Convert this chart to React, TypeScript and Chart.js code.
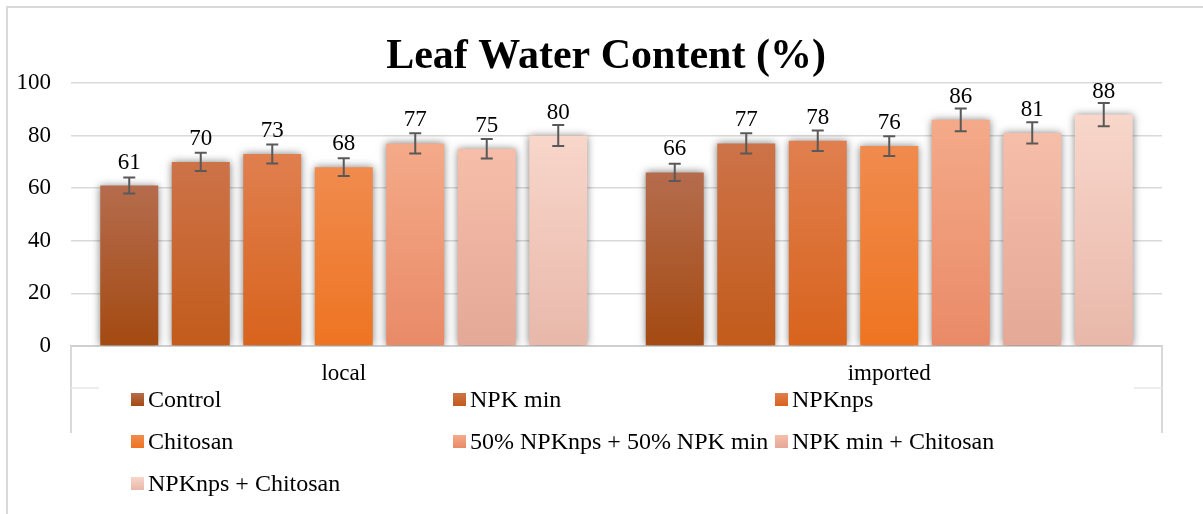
import React, { useEffect, useRef } from "react";
import { Chart, registerables } from "chart.js";

Chart.register(...registerables);

const categories = ["local", "imported"];
const seriesNames = [
  "Control",
  "NPK min",
  "NPKnps",
  "Chitosan",
  "50% NPKnps + 50% NPK min",
  "NPK min + Chitosan",
  "NPKnps + Chitosan",
];
const controlValues = [61, 66];
const npkMinValues = [70, 77];
const npkNpsValues = [73, 78];
const chitosanValues = [68, 76];
const halfHalfValues = [77, 86];
const npkMinChitosanValues = [75, 81];
const npkNpsChitosanValues = [80, 88];

const controlErr = [3.05, 3.3];
const npkMinErr = [3.5, 3.85];
const npkNpsErr = [3.65, 3.9];
const chitosanErr = [3.4, 3.8];
const halfHalfErr = [3.85, 4.3];
const npkMinChitosanErr = [3.75, 4.05];
const npkNpsChitosanErr = [4.0, 4.4];

const yTicks = [0, 20, 40, 60, 80, 100];

const seriesValues = [
  controlValues,
  npkMinValues,
  npkNpsValues,
  chitosanValues,
  halfHalfValues,
  npkMinChitosanValues,
  npkNpsChitosanValues,
];
const seriesErrors = [
  controlErr,
  npkMinErr,
  npkNpsErr,
  chitosanErr,
  halfHalfErr,
  npkMinChitosanErr,
  npkNpsChitosanErr,
];
// [top, bottom] gradient colours
const seriesColors: [string, string][] = [
  ["#b56c4d", "#a44a12"],
  ["#cd7349", "#c25b1b"],
  ["#e07f4f", "#d8631c"],
  ["#f08b4e", "#ee7421"],
  ["#f4aa89", "#e98a67"],
  ["#f6bea9", "#e4a897"],
  ["#f8d6ca", "#e8b8aa"],
];

const SERIF = "'Times New Roman', 'Liberation Serif', serif";

export default function App() {
  const canvasRef = useRef<HTMLCanvasElement | null>(null);

  useEffect(() => {
    const canvas = canvasRef.current;
    if (!canvas) return;

    const gradFor = (ctx: CanvasRenderingContext2D, top: number, bottom: number, i: number) => {
      const g = ctx.createLinearGradient(0, top, 0, bottom);
      g.addColorStop(0, seriesColors[i][0]);
      g.addColorStop(1, seriesColors[i][1]);
      return g;
    };

    const datasets = seriesNames.map((name, i) => ({
      label: name,
      data: seriesValues[i],
      backgroundColor: (context: any) => {
        const chart = context.chart;
        if (!chart.chartArea || context.type !== "data") return seriesColors[i][0];
        const ys = chart.scales.y;
        const top = ys.getPixelForValue(context.raw);
        const bottom = ys.getPixelForValue(0);
        return gradFor(chart.ctx, top, bottom, i);
      },
      borderWidth: 0,
      categoryPercentage: 0.9175,
      barPercentage: 0.811,
    }));

    const shadowPlugin = {
      id: "shadowPlugin",
      beforeDatasetsDraw(chart: any) {
        const ctx = chart.ctx;
        ctx.save();
        ctx.shadowColor = "rgba(0,0,0,0.5)";
        ctx.shadowBlur = 8;
        ctx.shadowOffsetX = 0;
        ctx.shadowOffsetY = 0;
      },
      afterDatasetsDraw(chart: any) {
        chart.ctx.restore();
      },
    };

    const decorPlugin = {
      id: "decorPlugin",
      beforeDraw(chart: any) {
        const ctx = chart.ctx;
        ctx.save();
        ctx.fillStyle = "#ffffff";
        ctx.fillRect(0, 0, chart.width, chart.height);
        ctx.strokeStyle = "#d9d9d9";
        ctx.lineWidth = 2;
        ctx.beginPath();
        ctx.moveTo(7, chart.height);
        ctx.lineTo(7, 7);
        ctx.lineTo(chart.width, 7);
        ctx.stroke();
        ctx.restore();
      },
      afterDatasetsDraw(chart: any) {
        const ctx = chart.ctx;
        const ys = chart.scales.y;
        const { left, right, bottom } = chart.chartArea;
        ctx.save();
        // category axis box lines
        ctx.strokeStyle = "#d9d9d9";
        ctx.lineWidth = 2;
        ctx.beginPath();
        ctx.moveTo(left, bottom);
        ctx.lineTo(left, bottom + 87);
        ctx.moveTo(right, bottom);
        ctx.lineTo(right, bottom + 87);
        ctx.stroke();
        ctx.lineWidth = 1.5;
        ctx.strokeStyle = "#e8e8e8";
        ctx.beginPath();
        ctx.moveTo(left, bottom + 42);
        ctx.lineTo(left + 28, bottom + 42);
        ctx.moveTo(right - 28, bottom + 42);
        ctx.lineTo(right, bottom + 42);
        ctx.stroke();

        // error bars + labels
        chart.data.datasets.forEach((ds: any, i: number) => {
          const meta = chart.getDatasetMeta(i);
          meta.data.forEach((el: any, j: number) => {
            const v = ds.data[j];
            const e = seriesErrors[i][j];
            const yt = ys.getPixelForValue(v + e);
            const yb = ys.getPixelForValue(v - e);
            ctx.strokeStyle = "#595959";
            ctx.lineWidth = 2;
            ctx.beginPath();
            ctx.moveTo(el.x, yt);
            ctx.lineTo(el.x, yb);
            ctx.moveTo(el.x - 6, yt);
            ctx.lineTo(el.x + 6, yt);
            ctx.moveTo(el.x - 6, yb);
            ctx.lineTo(el.x + 6, yb);
            ctx.stroke();
            ctx.fillStyle = "#000000";
            ctx.font = `23px ${SERIF}`;
            ctx.textAlign = "center";
            ctx.textBaseline = "alphabetic";
            ctx.fillText(String(v), el.x, el.y - 17);
          });
        });
        ctx.restore();
      },
      afterDraw(chart: any) {
        const ctx = chart.ctx;
        ctx.save();
        // title
        ctx.fillStyle = "#000000";
        ctx.font = `bold 42px ${SERIF}`;
        ctx.textAlign = "center";
        ctx.textBaseline = "alphabetic";
        ctx.fillText("Leaf Water Content (%)", 606, 68);

        // legend
        const colX = [131, 453, 775];
        const rowY = [399.5, 441.5, 483.5];
        ctx.font = `24px ${SERIF}`;
        ctx.textAlign = "left";
        ctx.textBaseline = "middle";
        seriesNames.forEach((name, i) => {
          const c = i % 3;
          const r = Math.floor(i / 3);
          const x = colX[c];
          const y = rowY[r];
          ctx.fillStyle = gradFor(ctx, y - 6.5, y + 6.5, i);
          ctx.fillRect(x, y - 6.5, 13, 13);
          ctx.fillStyle = "#000000";
          ctx.fillText(name, x + 17, y + 1);
        });
        ctx.restore();
      },
    };

    const chart = new Chart(canvas, {
      type: "bar",
      data: { labels: categories, datasets: datasets as any },
      options: {
        animation: false,
        responsive: true,
        maintainAspectRatio: false,
        layout: { padding: { left: 0, right: 41, top: 83, bottom: 0 } },
        plugins: {
          legend: { display: false },
          title: { display: false },
          tooltip: { enabled: false },
        },
        scales: {
          x: {
            grid: { display: false, drawTicks: false },
            border: { display: true, color: "#d0d0d0", width: 2 },
            ticks: {
              color: "#000000",
              font: { family: SERIF, size: 23 },
              padding: 14,
            },
            afterFit(scale: any) {
              scale.height = 168;
            },
          },
          y: {
            min: 0,
            max: 100,
            afterBuildTicks(scale: any) {
              scale.ticks = yTicks.map((v) => ({ value: v }));
            },
            grid: { color: "#d9d9d9", lineWidth: 1.5, drawTicks: false },
            border: { display: false },
            ticks: {
              color: "#000000",
              font: { family: SERIF, size: 23 },
              padding: 20,
            },
            afterFit(scale: any) {
              scale.width = 71;
            },
          },
        },
      },
      plugins: [shadowPlugin, decorPlugin],
    });

    return () => chart.destroy();
  }, []);

  return (
    <div style={{ position: "fixed", left: 0, top: 0, width: 1203, height: 514, background: "#fff" }}>
      <canvas ref={canvasRef} />
    </div>
  );
}
